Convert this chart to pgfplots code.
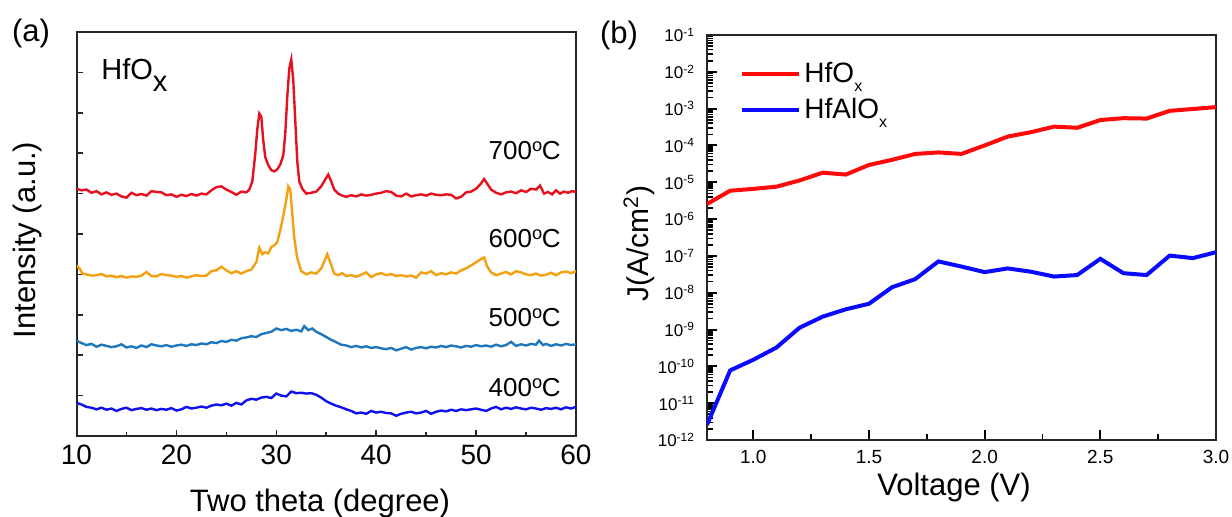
\documentclass[border=0pt]{standalone}
\usepackage{fontspec}
\setmainfont{Liberation Sans}
\usepackage{graphicx}
\usepackage{pgfplots}
\pgfplotsset{compat=1.18}
\definecolor{cR}{HTML}{E8101E}
\definecolor{cO}{HTML}{F5A010}
\definecolor{cLB}{HTML}{1F78BE}
\definecolor{cB}{HTML}{1010F0}
\definecolor{bR}{HTML}{FF0A0A}
\definecolor{bB}{HTML}{0A0AFF}
\newcommand{\fs}[1]{\fontsize{#1}{#1}\selectfont}
\newcommand{\subx}{\raisebox{-0.4em}{x}}
\newcommand{\lsubx}{\raisebox{-0.32em}{\fs{8}x}}
\begin{document}
\begin{tikzpicture}[x=1pt,y=1pt]
\useasboundingbox (0,0) rectangle (616,258.5);
% ---------------- panel (b)
\begin{axis}[
  at={(353.5pt,38.5pt)}, anchor=south west, scale only axis,
  width=254.5pt, height=202.5pt,
  xmin=0.8, xmax=3.0, ymode=log, ymin=1e-12, ymax=1e-1,
  xtick={1,1.5,2,2.5,3}, minor xtick={1.25,1.75,2.25,2.75},
  ytick={1e-12,1e-11,1e-10,1e-9,1e-8,1e-7,1e-6,1e-5,1e-4,1e-3,1e-2,1e-1},
  minor ytick={2e-12,3e-12,4e-12,5e-12,6e-12,7e-12,8e-12,9e-12,
    2e-11,3e-11,4e-11,5e-11,6e-11,7e-11,8e-11,9e-11,
    2e-10,3e-10,4e-10,5e-10,6e-10,7e-10,8e-10,9e-10,
    2e-9,3e-9,4e-9,5e-9,6e-9,7e-9,8e-9,9e-9,
    2e-8,3e-8,4e-8,5e-8,6e-8,7e-8,8e-8,9e-8,
    2e-7,3e-7,4e-7,5e-7,6e-7,7e-7,8e-7,9e-7,
    2e-6,3e-6,4e-6,5e-6,6e-6,7e-6,8e-6,9e-6,
    2e-5,3e-5,4e-5,5e-5,6e-5,7e-5,8e-5,9e-5,
    2e-4,3e-4,4e-4,5e-4,6e-4,7e-4,8e-4,9e-4,
    2e-3,3e-3,4e-3,5e-3,6e-3,7e-3,8e-3,9e-3,
    2e-2,3e-2,4e-2,5e-2,6e-2,7e-2,8e-2,9e-2},
  yticklabels={10\textsuperscript{-12},10\textsuperscript{-11},10\textsuperscript{-10},10\textsuperscript{-9},10\textsuperscript{-8},10\textsuperscript{-7},10\textsuperscript{-6},10\textsuperscript{-5},10\textsuperscript{-4},10\textsuperscript{-3},10\textsuperscript{-2},10\textsuperscript{-1}},
  tick pos=left, tick align=inside,
  major tick length=5pt, minor tick length=3pt,
  axis line style={line width=1pt, black!85},
  every tick/.style={line width=1pt, black},
  every minor tick/.style={line width=0.8pt, black},
  xticklabel style={font=\fs{9.5}, yshift=-1.5pt},
  xticklabel={\pgfmathprintnumber[fixed, fixed zerofill, precision=1, assume math mode=true]{\tick}},
  yticklabel style={font=\fs{8.5}, xshift=-2.5pt},
  legend style={at={(0.065,0.94)}, anchor=north west, draw=none, fill=none,
    font=\fs{14}, row sep=3pt, inner sep=0pt, nodes={inner sep=1.5pt}},
  legend cell align=left,
  legend image code/.code={\draw[#1] (0pt,0pt) -- (28.5pt,0pt);},
]
\addplot[bR, line width=2pt] table {
0.8 2.57e-6
0.9 5.89e-6
1.0 6.61e-6
1.1 7.59e-6
1.2 1.12e-5
1.3 1.82e-5
1.4 1.62e-5
1.5 2.95e-5
1.6 4.07e-5
1.7 5.89e-5
1.8 6.46e-5
1.9 5.89e-5
2.0 1.0e-4
2.1 1.74e-4
2.2 2.29e-4
2.3 3.24e-4
2.4 3.02e-4
2.5 4.90e-4
2.6 5.50e-4
2.7 5.37e-4
2.8 8.71e-4
2.9 9.77e-4
3.0 1.10e-3
};
\addlegendentry{HfO\lsubx}
\addplot[bB, line width=2pt] table {
0.8 2.57e-12
0.9 7.76e-11
1.0 1.51e-10
1.1 3.24e-10
1.2 1.12e-9
1.3 2.24e-9
1.4 3.55e-9
1.5 5.01e-9
1.6 1.41e-8
1.7 2.34e-8
1.8 7.08e-8
1.9 5.13e-8
2.0 3.63e-8
2.1 4.57e-8
2.2 3.72e-8
2.3 2.75e-8
2.4 3.02e-8
2.5 8.32e-8
2.6 3.39e-8
2.7 3.02e-8
2.8 1.02e-7
2.9 8.71e-8
3.0 1.26e-7
};
\addlegendentry{HfAlO\lsubx}
\end{axis}
% ---------------- panel (a)
\begin{axis}[
  at={(38.25pt,40.5pt)}, anchor=south west, scale only axis,
  width=249.75pt, height=202pt,
  xmin=10, xmax=60, ymin=0, ymax=10,
  xtick={10,20,...,60}, minor x tick num=1,
  ytick={1,...,9}, yticklabels={},
  tick pos=left, tick align=inside,
  major tick length=3pt, minor tick length=2pt,
  axis line style={line width=1pt, black!85},
  every tick/.style={line width=0.8pt, black!85},
  xticklabel style={font=\fs{14}, yshift=-1pt},
  /pgf/number format/assume math mode=true,
  clip=true,
]
\addplot[cR, line width=1.2pt] table {
10.0 6.12
10.5 6.08
11.0 6.10
11.5 6.02
12.0 6.06
12.5 5.98
13.0 6.03
13.5 5.97
14.0 6.00
14.5 5.93
15.0 5.90
15.5 6.02
16.0 5.96
16.5 5.99
17.0 5.95
17.5 6.06
18.0 6.04
18.5 6.03
19.0 5.96
19.5 5.98
20.0 5.92
20.5 5.97
21.0 5.94
21.5 5.99
22.0 5.95
22.5 6.00
23.0 5.98
23.5 6.08
24.0 6.16
24.5 6.18
25.0 6.10
25.5 6.04
26.0 5.97
26.5 6.05
27.0 6.03
27.3 6.10
27.6 6.30
27.9 7.00
28.1 7.60
28.3 7.98
28.5 7.90
28.7 7.30
28.9 6.90
29.2 6.70
29.5 6.58
29.8 6.55
30.1 6.60
30.4 6.72
30.7 6.95
30.9 7.50
31.1 8.40
31.3 9.10
31.5 9.32
31.7 8.80
31.9 7.80
32.1 6.80
32.3 6.30
32.6 6.12
33.0 6.00
33.5 6.02
34.0 6.05
34.5 6.18
34.9 6.35
35.2 6.47
35.5 6.30
35.8 6.10
36.2 6.00
36.6 5.95
37.0 5.92
37.5 5.96
38.0 5.93
38.5 5.98
39.0 5.95
39.5 5.97
40.0 6.00
40.5 6.02
41.0 6.06
41.5 6.04
42.0 5.95
42.5 5.93
43.0 6.00
43.5 5.93
44.0 5.96
44.5 5.98
45.0 5.95
45.5 6.00
46.0 5.97
46.5 5.96
47.0 5.98
47.5 5.97
48.0 5.88
48.5 5.92
49.0 6.03
49.5 6.05
50.0 6.12
50.5 6.25
50.8 6.36
51.1 6.25
51.5 6.10
52.0 6.02
52.5 5.98
53.0 6.03
53.5 6.05
54.0 6.01
54.5 6.08
55.0 6.04
55.5 6.12
56.0 6.10
56.4 6.20
56.8 6.00
57.2 6.04
57.6 5.98
58.0 6.08
58.4 6.00
58.8 6.05
59.2 6.02
59.6 6.06
60.0 6.04
};
\addplot[cO, line width=1.2pt] table {
10.0 4.22
10.3 4.15
10.6 4.02
11.0 4.00
11.5 3.97
12.0 3.98
12.5 4.01
13.0 3.95
13.5 3.97
14.0 3.93
14.5 3.96
15.0 3.92
15.5 3.95
16.0 3.94
16.5 3.97
17.0 4.06
17.5 3.96
18.0 3.95
18.5 4.01
19.0 3.98
19.5 3.97
20.0 3.94
20.5 3.96
21.0 3.92
21.5 3.95
22.0 3.98
22.5 3.96
23.0 3.97
23.5 4.08
24.0 4.10
24.5 4.19
25.0 4.10
25.5 4.03
26.0 4.08
26.5 4.02
27.0 4.08
27.5 4.12
28.0 4.30
28.3 4.66
28.6 4.50
28.9 4.55
29.2 4.52
29.5 4.68
29.8 4.72
30.1 4.80
30.4 5.10
30.7 5.45
31.0 5.85
31.2 6.18
31.4 6.10
31.6 5.50
31.8 4.90
32.1 4.40
32.5 4.08
33.0 4.00
33.5 4.05
34.0 4.02
34.5 4.15
34.9 4.38
35.1 4.50
35.4 4.30
35.8 4.02
36.2 3.98
36.6 4.03
37.0 3.96
37.5 3.98
38.0 3.94
38.5 3.99
39.0 4.05
39.5 3.93
40.0 4.00
40.5 4.03
41.0 3.98
41.5 4.01
42.0 3.96
42.5 3.98
43.0 3.95
43.5 3.97
44.0 3.92
44.5 4.05
45.0 4.02
45.5 4.08
46.0 3.98
46.5 4.03
47.0 4.00
47.5 4.05
48.0 4.02
48.5 4.10
49.0 4.15
49.5 4.22
50.0 4.30
50.5 4.38
50.8 4.42
51.1 4.20
51.5 4.05
52.0 3.98
52.5 4.02
53.0 4.06
53.5 4.00
54.0 4.08
54.5 4.05
55.0 4.00
55.5 3.98
56.0 4.02
56.5 3.97
57.0 3.99
57.5 4.04
58.0 3.98
58.5 4.05
59.0 4.07
59.5 4.03
60.0 4.08
};
\addplot[cLB, line width=1.2pt] table {
10.0 2.36
10.5 2.30
11.0 2.25
11.5 2.28
12.0 2.21
12.5 2.26
13.0 2.23
13.5 2.20
14.0 2.22
14.5 2.27
15.0 2.19
15.5 2.22
16.0 2.18
16.5 2.24
17.0 2.20
17.5 2.27
18.0 2.24
18.5 2.22
19.0 2.25
19.5 2.21
20.0 2.24
20.5 2.26
21.0 2.23
21.5 2.27
22.0 2.25
22.5 2.29
23.0 2.27
23.5 2.32
24.0 2.30
24.5 2.35
25.0 2.33
25.5 2.38
26.0 2.36
26.5 2.42
27.0 2.44
27.5 2.47
28.0 2.45
28.5 2.52
29.0 2.55
29.5 2.58
30.0 2.66
30.5 2.62
31.0 2.65
31.5 2.60
32.0 2.63
32.5 2.59
32.8 2.72
33.2 2.62
33.6 2.66
34.0 2.58
34.5 2.52
35.0 2.45
35.5 2.38
36.0 2.32
36.5 2.26
37.0 2.24
37.5 2.20
38.0 2.23
38.5 2.19
39.0 2.22
39.5 2.18
40.0 2.20
40.5 2.17
41.0 2.15
41.5 2.18
42.0 2.12
42.5 2.16
43.0 2.20
43.5 2.14
44.0 2.18
44.5 2.20
45.0 2.17
45.5 2.21
46.0 2.19
46.5 2.23
47.0 2.20
47.5 2.24
48.0 2.22
48.5 2.19
49.0 2.23
49.5 2.21
50.0 2.25
50.5 2.22
51.0 2.24
51.5 2.21
52.0 2.26
52.5 2.22
53.0 2.25
53.5 2.33
54.0 2.23
54.5 2.27
55.0 2.24
55.5 2.28
56.0 2.26
56.3 2.36
56.7 2.25
57.0 2.28
57.5 2.23
58.0 2.27
58.5 2.24
59.0 2.28
59.5 2.25
60.0 2.27
};
\addplot[cB, line width=1.2pt] table {
10.0 0.82
10.5 0.78
11.0 0.72
11.5 0.70
12.0 0.66
12.5 0.70
13.0 0.65
13.5 0.68
14.0 0.62
14.5 0.67
15.0 0.70
15.5 0.64
16.0 0.67
16.5 0.69
17.0 0.65
17.5 0.68
18.0 0.64
18.5 0.67
19.0 0.65
19.5 0.69
20.0 0.63
20.5 0.66
21.0 0.72
21.5 0.68
22.0 0.70
22.5 0.73
23.0 0.70
23.5 0.75
24.0 0.78
24.5 0.76
25.0 0.80
25.5 0.75
26.0 0.82
26.5 0.78
27.0 0.88
27.5 0.92
28.0 0.90
28.5 0.95
29.0 0.97
29.5 0.94
30.0 1.05
30.5 1.00
31.0 0.98
31.5 1.10
32.0 1.06
32.5 1.07
33.0 1.05
33.5 1.06
34.0 1.02
34.5 0.95
35.0 0.86
35.5 0.80
36.0 0.75
36.5 0.71
37.0 0.66
37.5 0.62
38.0 0.56
38.5 0.58
39.0 0.55
39.5 0.62
40.0 0.58
40.5 0.60
41.0 0.57
41.5 0.56
42.0 0.50
42.5 0.55
43.0 0.58
43.5 0.60
44.0 0.56
44.5 0.58
45.0 0.62
45.5 0.55
46.0 0.60
46.5 0.63
47.0 0.61
47.5 0.65
48.0 0.62
48.5 0.66
49.0 0.64
49.5 0.66
50.0 0.68
50.5 0.65
51.0 0.62
51.5 0.68
52.0 0.72
52.5 0.66
53.0 0.70
53.5 0.67
54.0 0.71
54.5 0.68
55.0 0.66
55.5 0.70
56.0 0.68
56.5 0.65
57.0 0.69
57.5 0.67
58.0 0.70
58.5 0.66
59.0 0.71
59.5 0.68
60.0 0.72
};
\end{axis}
% ---------------- texts
\node[font=\fs{15.5}] at (15.5,242) {(a)};
\node[font=\fs{15.5}] at (309.5,241) {(b)};
\node[font=\fs{15.5}, rotate=90] at (13.5,138.5) {Intensity (a.u.)};
\node[font=\fs{15.5}] at (160,7) {Two theta (degree)};
\node[font=\fs{14.5}, anchor=base west, inner sep=0pt] at (50.5,218.5) {HfO\subx};
\node[font=\fs{13}, anchor=base east, inner sep=0pt] at (280.5,178.5) {700\textsuperscript{o}\kern-0.05em C};
\node[font=\fs{13}, anchor=base east, inner sep=0pt] at (280.5,134.5) {600\textsuperscript{o}\kern-0.05em C};
\node[font=\fs{13}, anchor=base east, inner sep=0pt] at (280.5,95) {500\textsuperscript{o}\kern-0.05em C};
\node[font=\fs{13}, anchor=base east, inner sep=0pt] at (280.5,60) {400\textsuperscript{o}\kern-0.05em C};
\node[font=\fs{15}, rotate=90] at (319.5,136.5) {J(A/cm\textsuperscript{2})};
\node[font=\fs{15.5}] at (477,15) {Voltage (V)};
\end{tikzpicture}
\end{document}
